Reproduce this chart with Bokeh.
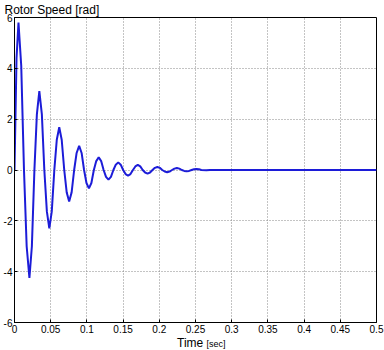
from bokeh.plotting import figure
from bokeh.models import FixedTicker, Range1d, Div
from bokeh.layouts import column
from bokeh.embed import file_html
from bokeh.resources import INLINE

# Rotor speed [rad] vs time [sec]
time_s = [0.0, 0.0028, 0.0055, 0.0093, 0.0131, 0.0168, 0.0206,
          0.0240, 0.0275, 0.0309, 0.0343, 0.0378, 0.0412, 0.0447, 0.0481,
          0.0515, 0.0550, 0.0584, 0.0618, 0.0652, 0.0687, 0.0721, 0.0755,
          0.0789, 0.0824, 0.0858, 0.0893, 0.0927, 0.0961, 0.0994, 0.1028,
          0.1062, 0.1096, 0.1129, 0.1163, 0.1197, 0.1231, 0.1264, 0.1298,
          0.1332, 0.1366, 0.1399, 0.1433, 0.1467, 0.1501, 0.1534, 0.1568,
          0.1602, 0.1636, 0.1669, 0.1703, 0.1737, 0.1771, 0.1804, 0.1838,
          0.1872, 0.1906, 0.1939, 0.1973, 0.2007, 0.2041, 0.2074, 0.2108,
          0.2142, 0.2176, 0.2209, 0.2243, 0.2277, 0.2311, 0.2344, 0.2378,
          0.2412, 0.2446, 0.2479, 0.2513, 0.2547, 0.2581, 0.2650, 0.2700,
          0.5]
rotor_speed = [0.0, 4.4, 5.8, 4.1, 0.0, -3.0, -4.25,
               -3.0, 0.0, 2.19, 3.1, 2.19, 0.0, -1.63, -2.3,
               -1.63, 0.0, 1.19, 1.68, 1.19, 0.0, -0.88, -1.24,
               -0.88, 0.0, 0.67, 0.95, 0.67, 0.0, -0.51, -0.72,
               -0.51, 0.0, 0.35, 0.5, 0.35, 0.0, -0.27, -0.38,
               -0.27, 0.0, 0.21, 0.3, 0.21, 0.0, -0.16, -0.22,
               -0.16, 0.0, 0.14, 0.2, 0.14, 0.0, -0.10, -0.14,
               -0.10, 0.0, 0.085, 0.12, 0.085, 0.0, -0.06, -0.085,
               -0.06, 0.0, 0.055, 0.08, 0.055, 0.0, -0.035, -0.05,
               -0.035, 0.0, 0.03, 0.04, 0.03, 0.0, -0.01, 0.0,
               0.0]

x_ticks = [0, 0.05, 0.1, 0.15, 0.2, 0.25, 0.3, 0.35, 0.4, 0.45, 0.5]
x_tick_labels = ["0", "0.05", "0.1", "0.15", "0.2", "0.25", "0.3", "0.35", "0.4", "0.45", "0.5"]
y_ticks = [-6, -4, -2, 0, 2, 4, 6]
y_tick_labels = ["-6", "-4", "-2", "0", "2", "4", "6"]

FONT = "Liberation Sans"

p = figure(width=384, height=336, output_backend="svg", toolbar_location=None,
           x_range=Range1d(0, 0.5), y_range=Range1d(-6, 6),
           min_border_left=12, min_border_right=8, min_border_top=2,
           min_border_bottom=14)
p.title.text = "Rotor Speed [rad]"
p.title.text_font = FONT
p.title.text_font_size = "12px"
p.title.text_font_style = "normal"
p.title.text_color = "black"
p.title.align = "left"
p.title.offset = -10
p.title.standoff = 1
p.background_fill_color = "white"
p.border_fill_color = "white"
p.outline_line_color = "black"
p.outline_line_width = 1

p.line(time_s, rotor_speed, line_color="#1c1cd8", line_width=2)

for ax, ticks, labels in ((p.xaxis[0], x_ticks, x_tick_labels), (p.yaxis[0], y_ticks, y_tick_labels)):
    ax.ticker = FixedTicker(ticks=ticks)
    ax.major_label_overrides = {t: l for t, l in zip(ticks, labels)}
    ax.minor_tick_line_color = None
    ax.major_tick_in = 3
    ax.major_tick_out = 0
    ax.axis_line_color = "black"
    ax.major_tick_line_color = "black"
    ax.major_label_text_font = FONT
    ax.major_label_text_font_size = "10px"
    ax.major_label_text_color = "black"
    ax.major_label_standoff = 2

p.xgrid.grid_line_color = "#888888"
p.ygrid.grid_line_color = "#888888"
p.xgrid.grid_line_dash = "1 2"
p.ygrid.grid_line_dash = "1 2"
p.xgrid.grid_line_width = 1
p.ygrid.grid_line_width = 1

xlabel = Div(
    text='Time <span style="font-size:9px">[sec]</span>',
    width=384, height=14, margin=(0, 0, 0, 0),
    styles={"font-family": "Liberation Sans", "font-size": "12px",
            "line-height": "14px", "color": "black",
            "padding-left": "177px", "white-space": "nowrap",
            "box-sizing": "border-box"},
)

layout = column(p, xlabel, spacing=0)

open("out.html", "w").write(file_html(layout, INLINE))
